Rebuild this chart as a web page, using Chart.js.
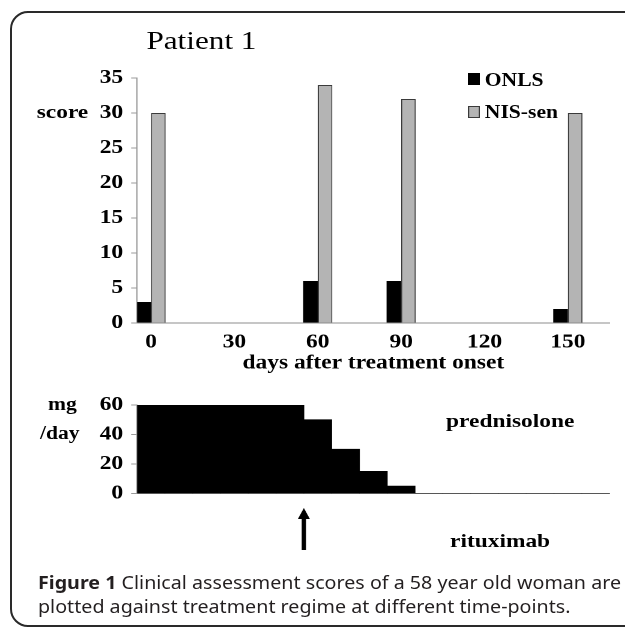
<!DOCTYPE html>
<html><head><meta charset="utf-8">
<script src="https://cdn.jsdelivr.net/npm/chart.js@4"></script>
<style>
html,body{margin:0;padding:0;background:#fff;}
body{width:625px;height:629px;position:relative;overflow:hidden;font-family:"Liberation Serif","Times New Roman",serif;}
#frame{position:absolute;left:10px;top:11px;width:700px;height:616px;border:2px solid #2a2a2a;border-radius:18px;box-sizing:border-box;}
.stretch{position:absolute;left:0;width:520.8333px;transform:scaleX(1.2);transform-origin:0 0;}
#w1{top:0;height:390px;}
#w2{top:380px;height:249px;}
#ov{top:0;height:629px;pointer-events:none;}
.t{position:absolute;white-space:nowrap;line-height:1;color:#000;}
.b{font-weight:bold;}
.box{position:absolute;box-sizing:border-box;}
.cap{position:absolute;left:38px;white-space:nowrap;font-family:"Noto Sans","Open Sans",sans-serif;font-size:18px;line-height:1;color:#231f20;transform-origin:0 0;}
</style>
</head>
<body>
<div id="frame"></div>
<div class="stretch" id="w1"><canvas id="c1"></canvas></div>
<div class="stretch" id="w2"><canvas id="c2"></canvas></div>
<div class="stretch" id="ov">
  <div class="t" style="left:122px;top:28px;font-size:26px;">Patient 1</div>
  <div class="t b" style="left:30.6px;top:102px;font-size:19.5px;">score</div>
  <div class="box" style="left:390px;top:73px;width:10px;height:12px;background:#000;"></div>
  <div class="t b" style="left:404px;top:70.5px;font-size:18px;">ONLS</div>
  <div class="box" style="left:390px;top:106px;width:10px;height:11.5px;background:#b4b4b4;border:1px solid #3a3a3a;"></div>
  <div class="t b" style="left:404px;top:103px;font-size:18px;">NIS-sen</div>
  <div class="t b" style="left:40px;top:395px;font-size:18px;">mg</div>
  <div class="t b" style="left:33.3px;top:424px;font-size:18px;">/day</div>
  <div class="t b" style="left:371.7px;top:411px;font-size:19.5px;">prednisolone</div>
  <div class="t b" style="left:375px;top:531px;font-size:19.5px;">rituximab</div>
</div>
<div class="cap" id="cap1" style="top:573px;"><b>Figure 1</b> Clinical assessment scores of a 58 year old woman are</div>
<div class="cap" id="cap2" style="top:597px;">plotted against treatment regime at different time-points.</div>
<script>
// ---- data ----
const days = [0, 30, 60, 90, 120, 150];
const onls = [3, null, 6, 6, null, 2];
const nisSen = [30, null, 34, 32, null, 30];
const scoreMax = 35, scoreStep = 5;
const doseDays = [0, 10, 20, 30, 40, 50, 60, 70, 80, 90, 100, 110, 120, 130, 140, 150, 160];
const prednisolone = [60, 60, 60, 60, 60, 60, 50, 30, 15, 5, 0, 0, 0, 0, 0, 0, 0];
const doseMax = 60, doseStep = 20;
const rituximabDay = 55;
const dayMin = -5, dayMax = 165;

// ---- layout helpers ----
const S = 1.2;
const serif = "'Liberation Serif','Times New Roman',serif";
const W = 625 / S;
const plotLeft = 137 / S, plotRight = 609 / S;
const tickFont = {family: serif, size: 19.5, weight: 'bold'};

const yAxisCommon = {
  grid: {drawOnChartArea: false, drawTicks: true, tickLength: 5, color: '#9a9a9a'},
  border: {display: true, color: '#9a9a9a', width: 1},
  afterFit: s => { s.width = plotLeft; }
};

new Chart(document.getElementById('c1'), {
  type: 'bar',
  data: {datasets: [
    {label: 'ONLS', data: days.map((d, i) => ({x: d, y: onls[i]})), backgroundColor: '#000', borderColor: '#000', borderWidth: 0},
    {label: 'NIS-sen', data: days.map((d, i) => ({x: d, y: nisSen[i]})), backgroundColor: '#b4b4b4', borderColor: '#3a3a3a', borderWidth: 1}
  ]},
  options: {
    responsive: true, maintainAspectRatio: false, animation: false, devicePixelRatio: 2,
    layout: {padding: {left: 0, right: W - plotRight, top: 78, bottom: 0}},
    plugins: {legend: {display: false}, tooltip: {enabled: false}},
    datasets: {bar: {categoryPercentage: 0.35, barPercentage: 1}},
    scales: {
      x: {type: 'linear', min: dayMin, max: dayMax, offset: false,
        afterBuildTicks: a => { a.ticks = days.map(v => ({value: v})); },
        afterFit: s => { s.height = 67; },
        grid: {display: false, drawTicks: false, offset: false},
        border: {display: true, color: '#8c8c8c', width: 1},
        ticks: {font: tickFont, color: '#000', padding: 7.6, maxRotation: 0, autoSkip: false},
        title: {display: true, text: 'days after treatment onset', font: tickFont, color: '#000', padding: {top: 0, bottom: 15}}
      },
      y: Object.assign({min: 0, max: scoreMax, ticks: {stepSize: scoreStep, font: tickFont, color: '#000', padding: 6.7}}, yAxisCommon)
    }
  }
});

const arrowPlugin = {
  id: 'rituxArrow',
  afterDraw(chart) {
    const ctx = chart.ctx;
    const x = chart.scales.x.getPixelForValue(rituximabDay);
    const y0 = 508 - 380, y1 = 550 - 380;
    ctx.save();
    ctx.fillStyle = '#000';
    ctx.fillRect(x - 1.8, y0 + 9, 3.6, y1 - y0 - 9);
    ctx.beginPath();
    ctx.moveTo(x, y0);
    ctx.lineTo(x - 5, y0 + 11);
    ctx.lineTo(x + 5, y0 + 11);
    ctx.closePath();
    ctx.fill();
    ctx.restore();
  }
};

new Chart(document.getElementById('c2'), {
  type: 'bar',
  data: {datasets: [
    {label: 'prednisolone', data: doseDays.map((d, i) => ({x: d, y: prednisolone[i]})), backgroundColor: '#000', borderWidth: 0}
  ]},
  options: {
    responsive: true, maintainAspectRatio: false, animation: false, devicePixelRatio: 2,
    layout: {padding: {left: 0, right: W - plotRight, top: 25, bottom: 0}},
    plugins: {legend: {display: false}, tooltip: {enabled: false}},
    datasets: {bar: {categoryPercentage: 1, barPercentage: 1}},
    scales: {
      x: {type: 'linear', min: dayMin, max: dayMax, offset: false,
        afterBuildTicks: a => { a.ticks = doseDays.map(v => ({value: v})); },
        afterFit: s => { s.height = 135.5; },
        grid: {display: false, drawTicks: false, offset: false},
        border: {display: true, color: '#8c8c8c', width: 1},
        ticks: {display: false}
      },
      y: Object.assign({min: 0, max: doseMax, ticks: {stepSize: doseStep, font: tickFont, color: '#000', padding: 6.7}}, yAxisCommon)
    }
  },
  plugins: [arrowPlugin]
});

// caption: line 1 spans the frame; line 2 uses the same horizontal scale
function fitCaptions() {
  const c1 = document.getElementById('cap1'), c2 = document.getElementById('cap2');
  c1.style.transform = 'none'; c2.style.transform = 'none';
  const w = c1.getBoundingClientRect().width;
  if (w > 0) {
    const k = 583 / w;
    c1.style.transform = 'scaleX(' + k + ')';
    c2.style.transform = 'scaleX(' + k + ')';
  }
}
fitCaptions();
if (document.fonts && document.fonts.ready) document.fonts.ready.then(fitCaptions);
</script>
</body></html>
